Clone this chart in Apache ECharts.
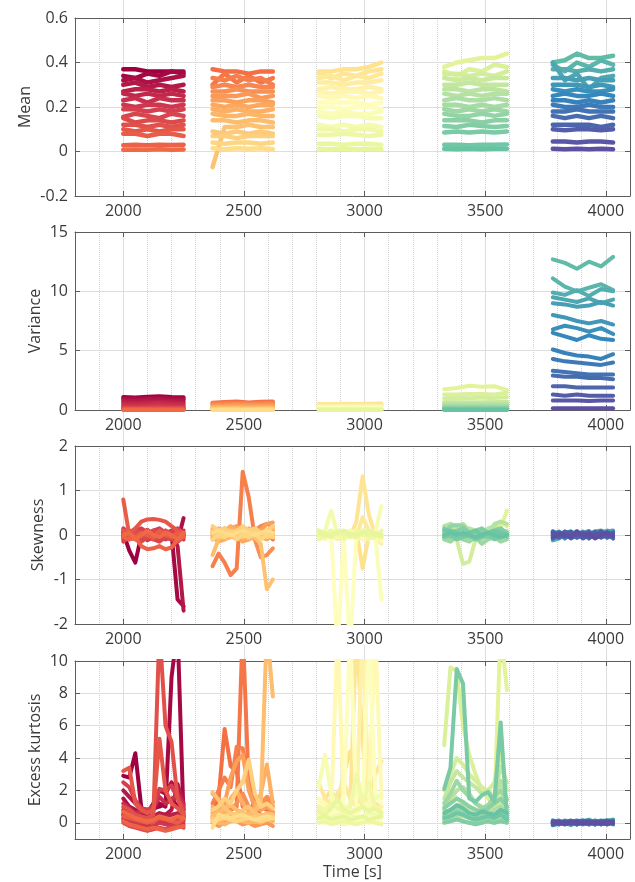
<!DOCTYPE html>
<html>
<head>
<meta charset="utf-8">
<script src="https://cdn.jsdelivr.net/npm/echarts@6/dist/echarts.min.js"></script>
<style>
  html, body { margin: 0; padding: 0; background: #ffffff; }
  #chart { width: 635px; height: 882px; }
</style>
</head>
<body>
<div id="chart"></div>
<script>
// ---- sample times of the five measurement windows ----
const coarseTimes = [
  [2000, 2050, 2100, 2150, 2200, 2250],
  [2370, 2420, 2470, 2520, 2570, 2620],
  [2810, 2862, 2914, 2966, 3018, 3070],
  [3330, 3382, 3434, 3486, 3538, 3590],
  [3780, 3830, 3880, 3930, 3980, 4030]
];
const fineTimes = [
  [2000, 2025, 2050, 2075, 2100, 2125, 2150, 2175, 2200, 2225, 2250],
  [2370, 2395, 2420, 2445, 2470, 2495, 2520, 2545, 2570, 2595, 2620],
  [2810, 2836, 2862, 2888, 2914, 2940, 2966, 2992, 3018, 3044, 3070],
  [3330, 3356, 3382, 3408, 3434, 3460, 3486, 3512, 3538, 3564, 3590],
  [3780, 3805, 3830, 3855, 3880, 3905, 3930, 3955, 3980, 4005, 4030]
];

// ---- tick labels ----
const timeTicks = [2000, 2500, 3000, 3500, 4000];
const kurtTicks = [0, 2, 4, 6, 8, 10];
const panelNames = ['Mean', 'Variance', 'Skewness', 'Excess kurtosis'];

// ---- mean (one row per channel, 16 channels per window) ----
const meanC1 = [
  [0.37,0.37,0.36,0.36,0.36,0.35],[0.34,0.33,0.35,0.34,0.36,0.36],[0.32,0.33,0.31,0.32,0.33,0.34],
  [0.30,0.31,0.29,0.30,0.29,0.30],[0.27,0.28,0.28,0.27,0.28,0.27],[0.26,0.25,0.26,0.25,0.26,0.25],
  [0.23,0.24,0.22,0.24,0.23,0.23],[0.21,0.20,0.21,0.21,0.20,0.21],[0.19,0.19,0.18,0.19,0.18,0.19],
  [0.155,0.17,0.16,0.15,0.17,0.16],[0.15,0.13,0.14,0.14,0.13,0.14],[0.12,0.12,0.11,0.12,0.11,0.12],
  [0.10,0.09,0.10,0.09,0.10,0.10],[0.08,0.08,0.07,0.08,0.08,0.07],[0.028,0.030,0.028,0.030,0.029,0.030],
  [0.008,0.009,0.008,0.010,0.008,0.009]
];
const meanC2 = [
  [0.37,0.36,0.36,0.35,0.36,0.36],[0.30,0.35,0.31,0.34,0.31,0.33],[0.33,0.32,0.34,0.32,0.33,0.30],
  [0.29,0.30,0.29,0.30,0.29,0.29],[0.27,0.27,0.28,0.27,0.27,0.27],[0.25,0.25,0.25,0.26,0.24,0.25],
  [0.23,0.23,0.22,0.23,0.23,0.22],[0.21,0.20,0.21,0.20,0.21,0.21],[0.19,0.18,0.19,0.18,0.18,0.19],
  [0.17,0.16,0.16,0.17,0.16,0.16],[0.14,0.14,0.13,0.14,0.14,0.13],[-0.07,0.11,0.11,0.12,0.11,0.11],
  [0.09,0.08,0.09,0.08,0.09,0.08],[0.07,0.07,0.06,0.07,0.07,0.07],[0.04,0.035,0.04,0.04,0.035,0.04],
  [0.015,0.01,0.015,0.012,0.015,0.01]
];
const meanC3 = [
  [0.36,0.36,0.37,0.37,0.38,0.40],[0.35,0.33,0.35,0.34,0.36,0.37],[0.33,0.34,0.32,0.34,0.33,0.35],
  [0.31,0.31,0.30,0.31,0.31,0.32],[0.28,0.29,0.28,0.28,0.29,0.28],[0.27,0.26,0.27,0.27,0.26,0.27],
  [0.25,0.24,0.25,0.24,0.25,0.24],[0.22,0.22,0.22,0.22,0.21,0.22],[0.20,0.20,0.19,0.20,0.20,0.19],
  [0.18,0.17,0.18,0.17,0.17,0.18],[0.16,0.15,0.16,0.16,0.15,0.15],[0.12,0.11,0.12,0.11,0.12,0.11],
  [0.10,0.10,0.09,0.10,0.10,0.09],[0.075,0.075,0.08,0.075,0.07,0.075],[0.035,0.035,0.03,0.035,0.035,0.03],
  [0.012,0.01,0.012,0.01,0.012,0.01]
];
const meanC4 = [
  [0.38,0.40,0.41,0.42,0.42,0.44],[0.36,0.34,0.37,0.36,0.39,0.38],[0.35,0.35,0.34,0.35,0.34,0.36],
  [0.33,0.32,0.33,0.32,0.33,0.33],[0.30,0.30,0.31,0.30,0.30,0.30],[0.28,0.28,0.27,0.28,0.28,0.27],
  [0.26,0.25,0.26,0.25,0.26,0.26],[0.23,0.24,0.23,0.23,0.24,0.23],[0.21,0.21,0.20,0.21,0.20,0.21],
  [0.19,0.18,0.19,0.18,0.19,0.18],[0.17,0.16,0.16,0.17,0.16,0.17],[0.14,0.14,0.14,0.13,0.14,0.14],
  [0.115,0.11,0.12,0.115,0.11,0.115],[0.085,0.09,0.085,0.09,0.085,0.09],[0.03,0.03,0.028,0.03,0.03,0.032],
  [0.012,0.01,0.012,0.01,0.012,0.012]
];
const meanC5 = [
  [0.40,0.41,0.44,0.42,0.42,0.43],[0.39,0.36,0.40,0.38,0.41,0.39],[0.37,0.37,0.36,0.37,0.36,0.37],
  [0.40,0.32,0.35,0.28,0.33,0.34],[0.33,0.33,0.32,0.33,0.32,0.32],[0.30,0.30,0.30,0.29,0.30,0.29],
  [0.28,0.27,0.28,0.27,0.27,0.28],[0.25,0.26,0.25,0.25,0.26,0.25],[0.23,0.23,0.22,0.23,0.22,0.23],
  [0.21,0.20,0.20,0.21,0.20,0.20],[0.18,0.18,0.19,0.18,0.18,0.18],[0.16,0.15,0.16,0.15,0.16,0.15],
  [0.12,0.12,0.12,0.12,0.11,0.12],[0.10,0.095,0.10,0.10,0.095,0.10],[0.045,0.045,0.04,0.045,0.045,0.04],
  [0.012,0.01,0.012,0.01,0.012,0.01]
];

// ---- variance ----
const varC1 = [
  [1.10,1.05,1.12,1.15,1.10,1.08],[1.00,0.98,1.02,1.05,1.00,0.98],[0.90,0.88,0.92,0.95,0.90,0.88],
  [0.78,0.76,0.80,0.82,0.78,0.76],[0.65,0.62,0.66,0.70,0.66,0.62],[0.52,0.50,0.54,0.62,0.52,0.50],
  [0.40,0.38,0.42,0.50,0.42,0.38],[0.30,0.28,0.32,0.36,0.30,0.28],[0.22,0.20,0.22,0.24,0.22,0.20],
  [0.17,0.16,0.18,0.18,0.17,0.16],[0.13,0.12,0.13,0.14,0.13,0.12],[0.10,0.09,0.10,0.10,0.10,0.09],
  [0.07,0.07,0.07,0.08,0.07,0.07],[0.05,0.05,0.05,0.05,0.05,0.05],[0.03,0.03,0.03,0.03,0.03,0.03],
  [0.01,0.01,0.01,0.01,0.01,0.01]
];
const varC2 = [
  [0.62,0.68,0.72,0.64,0.70,0.72],[0.58,0.60,0.62,0.60,0.62,0.64],[0.52,0.55,0.56,0.54,0.56,0.58],
  [0.46,0.48,0.50,0.48,0.50,0.50],[0.40,0.42,0.44,0.42,0.43,0.44],[0.34,0.36,0.37,0.35,0.36,0.37],
  [0.28,0.30,0.30,0.29,0.30,0.30],[0.23,0.24,0.25,0.24,0.24,0.25],[0.19,0.20,0.20,0.19,0.20,0.20],
  [0.15,0.16,0.16,0.15,0.16,0.16],[0.12,0.12,0.13,0.12,0.12,0.13],[0.09,0.09,0.10,0.09,0.09,0.10],
  [0.07,0.07,0.07,0.07,0.07,0.07],[0.05,0.05,0.05,0.05,0.05,0.05],[0.03,0.03,0.03,0.03,0.03,0.03],
  [0.01,0.01,0.01,0.01,0.01,0.01]
];
const varC3 = [
  [0.50,0.48,0.52,0.50,0.52,0.54],[0.45,0.44,0.46,0.45,0.46,0.48],[0.40,0.39,0.41,0.40,0.41,0.42],
  [0.35,0.34,0.36,0.35,0.36,0.36],[0.30,0.30,0.31,0.30,0.31,0.31],[0.26,0.26,0.27,0.26,0.26,0.27],
  [0.22,0.22,0.23,0.22,0.22,0.23],[0.19,0.19,0.19,0.19,0.19,0.19],[0.16,0.16,0.16,0.16,0.16,0.16],
  [0.13,0.13,0.13,0.13,0.13,0.13],[0.11,0.11,0.11,0.11,0.11,0.11],[0.09,0.09,0.09,0.09,0.09,0.09],
  [0.07,0.07,0.07,0.07,0.07,0.07],[0.05,0.05,0.05,0.05,0.05,0.05],[0.03,0.03,0.03,0.03,0.03,0.03],
  [0.01,0.01,0.01,0.01,0.01,0.01]
];
const varC4 = [
  [1.75,1.85,2.05,1.95,2.00,1.70],[1.30,1.30,1.35,1.35,1.30,1.45],[1.00,1.02,1.00,1.05,1.00,1.10],
  [0.68,0.65,0.66,0.66,0.68,0.72],[0.58,0.58,0.58,0.60,0.60,0.62],[0.50,0.50,0.50,0.52,0.50,0.52],
  [0.42,0.42,0.42,0.43,0.42,0.44],[0.35,0.35,0.35,0.36,0.35,0.36],[0.29,0.29,0.29,0.29,0.29,0.30],
  [0.24,0.24,0.24,0.24,0.24,0.24],[0.19,0.19,0.19,0.19,0.19,0.19],[0.15,0.15,0.15,0.15,0.15,0.15],
  [0.11,0.11,0.11,0.11,0.11,0.11],[0.07,0.07,0.07,0.07,0.07,0.07],[0.04,0.04,0.04,0.04,0.04,0.04],
  [0.01,0.01,0.01,0.01,0.01,0.01]
];
const varC5 = [
  [12.7,12.4,11.9,12.5,12.1,12.9],[11.1,10.4,10.0,10.3,10.6,10.1],[9.9,9.7,10.1,9.6,10.2,10.0],
  [9.5,9.3,9.1,9.4,9.0,9.3],[9.0,8.9,8.7,8.8,9.1,8.8],[8.0,7.8,7.5,7.3,7.5,7.2],
  [6.8,7.1,6.9,6.6,6.9,6.4],[6.5,6.2,5.9,6.3,6.0,5.9],[5.1,4.8,4.6,4.5,4.3,4.7],
  [4.3,4.1,4.0,3.9,3.8,4.0],[3.3,3.2,3.1,3.0,3.0,3.0],[2.9,2.8,2.8,2.7,2.7,2.6],
  [2.0,2.0,1.9,1.9,1.9,1.9],[1.3,1.2,1.3,1.2,1.2,1.2],[0.8,0.8,0.8,0.75,0.8,0.8],
  [0.15,0.15,0.15,0.15,0.15,0.15]
];

// ---- skewness ----
const skewC1 = [
  [0.05,-0.35,-0.62,0.0,0.05,-0.05,0.0,0.08,0.0,-0.05,0.0],
  [0.0,0.05,-0.05,0.0,0.05,0.0,-0.05,0.0,0.05,-1.45,-1.6],
  [0.0,0.0,0.05,-0.05,0.0,0.05,0.0,-0.05,-0.1,-0.15,0.38],
  [-0.05,0.0,-0.05,0.05,0.0,-0.05,0.05,0.0,0.0,-0.25,-1.7],
  [0.1,0.05,0.1,0.05,0.0,0.1,0.05,0.0,0.1,0.05,0.0],
  [-0.1,-0.05,0.0,-0.1,-0.05,0.0,-0.1,-0.05,0.0,-0.1,-0.05],
  [0.05,0.1,0.0,0.05,0.12,0.0,0.05,0.1,0.0,0.05,0.1],
  [0.0,-0.1,-0.05,0.0,-0.12,-0.05,0.05,-0.1,-0.05,0.0,-0.1],
  [0.15,0.05,0.1,0.15,0.05,0.1,0.15,0.05,0.1,0.15,0.05],
  [-0.15,-0.05,-0.1,-0.15,-0.05,-0.1,-0.15,-0.05,-0.1,-0.15,-0.05],
  [0.05,0.0,0.1,0.05,-0.05,0.1,0.0,0.05,-0.05,0.1,0.0],
  [-0.05,0.1,0.0,-0.05,0.1,-0.1,0.05,0.1,0.0,-0.05,0.05],
  [0.1,0.05,0.15,0.3,0.35,0.36,0.34,0.3,0.2,0.1,0.05],
  [0.8,0.0,-0.05,0.05,0.0,-0.05,0.1,0.0,-0.05,0.05,0.0],
  [-0.05,-0.1,-0.05,-0.25,-0.32,-0.3,-0.25,-0.32,-0.28,-0.1,-0.05],
  [0.0,0.05,-0.1,0.0,0.1,0.0,-0.05,0.05,0.0,-0.1,0.05]
];
const skewC2 = [
  [0.05,0.0,-0.05,0.1,0.0,0.05,-0.05,0.0,0.1,0.05,0.0],
  [-0.05,0.1,0.0,-0.05,0.05,0.0,0.1,-0.05,0.0,0.05,-0.1],
  [-0.7,-0.42,-0.62,-0.9,-0.75,1.42,0.85,-0.05,0.0,0.05,0.0],
  [0.1,0.05,0.15,0.05,0.1,0.15,0.05,0.1,0.2,0.25,0.2],
  [0.0,-0.1,-0.05,0.0,-0.1,-0.05,0.0,-0.1,-0.5,-0.45,-0.3],
  [-0.1,0.0,0.05,-0.05,0.1,0.0,-0.1,0.05,0.0,-0.05,0.1],
  [0.15,0.1,0.05,0.15,0.2,0.1,0.05,0.15,0.1,0.25,0.28],
  [-0.05,-0.15,-0.1,0.0,-0.05,-0.15,-0.1,0.0,-0.05,-0.1,0.0],
  [0.05,0.15,0.1,0.2,0.1,0.05,0.15,0.1,0.05,0.1,0.15],
  [0.0,0.05,-0.1,-0.05,0.0,0.05,-0.1,-0.05,0.0,0.05,-0.05],
  [-0.45,-0.1,0.0,0.05,-0.05,0.0,0.1,0.05,-0.05,0.0,0.05],
  [0.1,0.0,0.05,-0.05,0.1,0.0,0.05,-0.05,-0.2,-1.22,-1.0],
  [0.05,-0.05,0.0,0.1,0.05,-0.05,0.0,0.1,0.05,-0.05,0.0],
  [0.2,0.1,0.15,0.05,0.1,0.2,0.1,0.15,0.05,0.1,0.2],
  [-0.1,0.0,-0.05,0.05,-0.1,0.0,-0.05,0.05,-0.1,0.0,-0.05],
  [0.05,0.1,0.05,0.0,0.05,0.1,0.05,0.0,0.05,0.1,0.05]
];
const skewC3 = [
  [0.0,-0.05,0.05,0.0,-0.05,0.05,0.1,-0.75,0.0,-0.1,0.05],
  [0.05,0.0,-0.05,0.1,0.0,-0.05,0.3,1.32,0.45,0.0,-0.05],
  [-0.05,0.1,0.0,-0.05,0.05,0.0,-0.05,0.4,0.1,0.05,0.0],
  [0.1,0.05,0.1,0.0,0.05,0.1,0.0,0.05,0.1,0.05,0.0],
  [-0.1,-0.05,0.0,-0.1,-0.05,0.0,-0.1,-0.05,0.0,-0.1,-0.2],
  [0.0,0.1,0.05,-0.05,0.1,0.05,0.0,0.1,0.05,-0.05,0.1],
  [0.05,-0.1,0.0,0.05,-0.1,0.0,0.05,-0.1,0.0,0.05,-0.1],
  [0.0,0.05,0.0,-2.6,0.0,-0.05,0.0,0.05,0.0,-0.05,0.0],
  [-0.05,0.0,0.05,0.0,-0.05,-2.6,0.05,0.0,-0.05,0.0,0.05],
  [0.1,0.0,0.05,0.1,0.0,0.05,0.1,0.0,0.05,0.0,-1.45],
  [0.0,0.05,0.1,0.0,0.05,0.1,0.0,0.05,0.0,0.05,0.65],
  [0.0,0.1,0.55,0.0,0.05,-0.05,0.0,0.1,0.0,0.05,-0.05],
  [-0.1,0.0,-0.05,0.05,-0.1,0.0,-0.05,0.05,-0.1,0.0,-0.05],
  [0.05,-0.05,0.1,0.0,0.05,-0.05,0.1,0.0,0.05,-0.05,0.1],
  [0.0,0.05,-0.05,0.1,0.0,0.05,-0.05,0.1,0.0,0.05,-0.05],
  [0.1,0.0,0.0,0.05,0.1,0.0,0.0,0.05,0.1,0.0,0.0]
];
const skewC4 = [
  [0.05,0.0,-0.05,0.1,0.0,-0.05,0.05,0.0,0.1,0.15,0.55],
  [0.0,0.05,0.1,0.0,-0.05,0.05,0.1,0.0,0.05,0.3,0.2],
  [-0.05,0.0,-0.1,-0.65,-0.6,-0.1,0.0,0.05,0.0,-0.05,0.0],
  [0.05,0.1,0.0,0.05,0.1,0.0,0.05,0.1,0.0,0.05,0.1],
  [-0.1,-0.05,0.0,-0.1,-0.05,0.0,-0.1,-0.05,0.0,-0.1,-0.05],
  [0.0,0.15,0.1,0.05,0.15,0.1,0.05,0.15,0.2,0.1,0.05],
  [0.2,0.25,0.2,0.25,0.1,0.05,-0.1,0.0,0.25,0.3,0.25],
  [-0.05,0.05,0.0,-0.05,0.05,0.0,-0.05,0.05,0.0,-0.05,0.05],
  [0.1,0.0,0.05,0.1,0.0,0.05,0.1,0.0,0.05,0.1,0.0],
  [-0.1,-0.15,-0.05,-0.1,-0.15,-0.05,-0.2,-0.1,-0.05,-0.15,-0.1],
  [0.05,0.2,0.22,0.2,0.05,0.0,0.05,0.0,0.05,0.0,0.05],
  [0.0,-0.05,0.05,0.0,-0.05,0.05,0.0,-0.05,0.05,0.0,-0.05],
  [0.15,0.05,0.1,0.15,0.05,0.1,0.15,0.05,0.1,0.15,0.05],
  [-0.05,0.0,-0.1,-0.05,0.0,-0.1,-0.05,0.0,-0.1,-0.05,0.0],
  [0.1,0.1,0.05,0.0,0.05,0.1,0.0,0.05,0.1,0.05,0.0],
  [0.0,0.05,0.0,0.05,0.0,-0.05,0.0,0.05,0.0,-0.05,0.0]
];
const skewC5 = [
  [0.04,-0.05,0.08,0.0,-0.06,0.05,0.09,-0.03,0.06,0.1,0.07],
  [-0.08,0.0,0.05,-0.04,0.07,0.0,-0.05,0.08,0.03,-0.06,0.05],
  [-0.12,-0.08,0.0,0.06,-0.03,0.05,0.0,0.08,0.1,0.03,0.0],
  [0.08,0.03,-0.05,0.0,0.09,-0.03,0.05,0.0,-0.05,0.08,0.1],
  [0.0,0.06,-0.08,0.03,0.0,0.08,-0.03,0.05,0.09,0.0,-0.06],
  [-0.05,0.08,0.0,-0.06,0.05,0.0,0.06,-0.05,0.0,0.05,0.03],
  [0.06,-0.03,0.05,0.08,-0.05,0.03,0.0,0.06,-0.03,0.08,0.0],
  [0.0,0.05,-0.03,0.0,0.06,-0.06,0.03,0.0,0.05,-0.03,0.06],
  [-0.09,0.0,0.06,-0.05,0.0,0.05,-0.08,0.03,0.0,0.06,-0.05],
  [0.05,-0.06,0.0,0.08,-0.03,0.0,0.06,-0.05,0.08,0.0,0.03],
  [0.0,0.03,-0.06,0.0,0.05,-0.05,0.0,0.08,-0.03,0.0,0.06],
  [0.08,0.0,0.03,-0.08,0.0,0.06,-0.03,0.0,0.05,-0.06,0.0],
  [-0.03,0.06,0.0,0.05,-0.06,0.0,0.08,-0.05,0.0,0.03,-0.08],
  [0.0,-0.05,0.08,0.0,0.03,-0.08,0.0,0.05,-0.06,0.0,0.05],
  [0.05,0.0,-0.03,0.06,0.0,0.03,-0.06,0.0,0.08,-0.03,0.0],
  [-0.06,0.03,0.0,-0.05,0.08,0.0,0.03,-0.08,0.0,0.06,-0.03]
];

// ---- excess kurtosis ----
const kurtC1 = [
  [2.9,2.8,4.3,0.9,0.8,0.9,1.0,1.2,1.5,1.0,0.8],
  [0.5,0.4,0.3,0.5,0.6,0.8,1.2,1.0,9.0,12,0.3],
  [1.5,1.0,0.8,0.5,0.6,1.2,2.0,1.8,2.5,2.0,1.0],
  [2.0,1.6,1.2,0.8,0.5,0.4,0.6,0.5,0.8,2.4,1.2],
  [0.8,0.6,0.5,0.3,0.2,0.3,0.5,0.4,0.5,0.6,0.4],
  [0.3,0.2,0.1,0.0,-0.1,0.1,0.2,0.1,0.0,0.2,0.1],
  [1.2,0.9,0.6,0.7,0.6,0.9,1.6,1.2,1.4,1.8,1.1],
  [0.2,0.1,0.0,-0.2,-0.3,-0.2,0.0,-0.1,-0.2,0.0,-0.1],
  [2.5,2.2,1.4,0.9,0.8,1.0,2.1,2.0,2.3,1.5,0.9],
  [0.6,0.4,0.2,0.1,0.0,0.2,0.3,0.2,0.1,0.3,0.2],
  [0.0,-0.2,-0.3,-0.4,-0.5,-0.4,-0.3,-0.4,-0.3,-0.2,-0.3],
  [1.0,0.8,0.5,0.4,0.3,0.5,12,6.0,5.0,1.5,0.6],
  [3.2,3.4,1.2,0.8,0.6,0.8,5.2,2.0,1.2,0.9,0.5],
  [0.4,0.3,0.2,0.1,0.0,0.1,0.3,0.2,0.1,0.0,0.2],
  [0.1,-0.1,-0.2,-0.3,-0.4,-0.3,-0.4,-0.5,-0.4,-0.3,-0.2],
  [0.7,0.5,0.3,0.2,0.1,0.2,0.4,0.3,0.2,0.4,0.3]
];
const kurtC2 = [
  [0.8,1.5,5.8,3.5,3.2,1.0,0.8,1.2,1.0,0.8,0.6],
  [0.4,0.3,0.6,0.8,1.0,12,2.3,0.8,0.5,0.4,0.4],
  [1.2,2.0,2.8,2.2,4.7,4.6,2.5,1.5,1.2,1.5,1.0],
  [0.2,0.1,0.3,0.5,0.4,0.3,0.2,0.5,0.3,0.2,0.3],
  [1.8,1.5,1.0,0.8,1.2,1.8,1.0,0.6,1.2,1.6,1.3],
  [0.0,-0.2,0.0,0.2,0.1,-0.1,0.0,-0.2,-0.1,0.0,-0.2],
  [0.6,0.8,1.2,2.8,3.8,4.2,2.0,1.0,0.8,1.0,0.7],
  [0.3,0.5,0.4,0.2,0.3,0.5,0.4,0.3,0.5,0.4,0.3],
  [1.0,0.7,0.5,1.5,2.0,1.2,0.7,0.9,1.8,3.6,1.2],
  [0.1,0.0,-0.1,0.1,0.2,0.1,0.0,0.1,0.0,0.2,0.1],
  [0.5,0.6,0.9,1.1,0.8,0.6,0.5,0.7,1.2,12,7.8],
  [1.9,1.4,0.9,0.6,0.5,0.8,1.0,0.6,0.4,0.6,0.5],
  [0.3,0.2,0.4,0.6,0.5,0.4,0.3,0.4,0.2,0.3,0.4],
  [0.8,1.0,1.5,1.2,2.0,2.5,3.9,1.8,1.0,1.2,0.9],
  [0.1,0.2,0.3,0.2,0.1,0.2,0.3,0.2,0.1,0.2,0.3],
  [-0.3,0.5,0.4,0.3,0.4,0.5,0.3,0.2,0.3,0.4,0.3]
];
const kurtC3 = [
  [1.0,1.5,2.0,1.2,3.0,4.4,3.2,1.0,1.5,3.0,3.8],
  [0.5,0.8,1.5,1.0,0.6,0.8,12,5.0,1.0,0.8,0.6],
  [2.5,1.5,1.0,1.8,2.5,1.5,1.0,2.0,1.5,1.2,1.0],
  [0.3,0.2,0.4,0.5,0.3,0.6,0.4,0.3,0.5,0.4,0.3],
  [0.8,0.6,1.0,1.2,0.8,0.6,0.9,12,1.5,0.8,1.0],
  [0.1,0.0,0.2,0.1,-0.1,0.0,0.1,0.2,0.0,0.1,0.0],
  [1.5,1.2,0.8,12,1.0,0.8,0.6,0.9,1.2,12,1.5],
  [0.4,0.6,0.5,0.3,0.4,0.6,0.5,0.3,0.4,0.6,0.5],
  [1.2,0.9,0.7,0.8,1.2,12,1.0,0.8,12,1.8,1.2],
  [0.2,0.3,0.1,0.2,0.3,0.1,0.2,0.3,0.1,0.2,0.3],
  [2.2,4.2,1.8,1.0,0.8,1.2,2.0,1.4,1.0,1.5,1.8],
  [0.6,0.4,0.3,0.5,0.7,0.5,0.3,0.4,0.6,0.5,0.4],
  [1.0,0.8,1.2,0.9,0.7,1.0,3.0,1.2,2.5,0.9,0.7],
  [0.0,0.1,-0.1,0.0,0.1,0.0,-0.1,0.0,0.1,0.0,-0.1],
  [0.7,0.5,0.9,1.5,0.8,0.6,0.8,1.0,0.7,0.9,0.6],
  [0.3,0.4,0.2,0.3,0.4,0.2,0.3,0.4,0.2,0.3,0.4]
];
const kurtC4 = [
  [1.2,2.0,1.5,1.0,0.8,0.6,0.5,0.8,1.2,12,8.2],
  [4.8,9.6,9.4,6.0,4.2,3.0,2.0,1.5,1.2,1.8,1.0],
  [2.0,3.0,4.0,3.6,3.0,2.6,2.2,2.0,2.5,4.5,2.0],
  [0.5,0.8,1.0,0.9,0.7,0.5,0.6,0.8,1.0,1.2,0.9],
  [1.5,2.5,3.2,2.8,2.5,2.2,1.8,2.0,1.5,3.5,2.5],
  [0.2,0.3,0.5,0.4,0.3,0.2,0.4,0.3,0.2,0.5,0.3],
  [1.0,1.5,2.0,2.2,1.8,1.2,1.0,0.8,1.4,2.6,1.5],
  [0.8,0.6,0.9,1.2,1.0,0.8,0.6,0.5,0.8,1.0,0.7],
  [0.1,0.2,0.3,0.1,0.0,0.1,0.2,0.1,0.0,0.2,0.1],
  [1.2,1.8,2.6,2.0,1.6,1.2,0.9,1.1,1.6,2.0,1.4],
  [0.4,0.5,0.8,0.6,0.4,0.3,0.5,0.4,0.3,0.6,0.4],
  [0.9,1.2,1.5,1.3,1.0,0.8,0.7,0.9,1.2,1.5,1.0],
  [0.0,0.1,0.2,0.1,0.0,-0.1,0.0,0.1,0.0,0.1,0.0],
  [2.1,3.4,9.5,8.6,1.5,1.3,1.7,1.9,1.3,6.2,0.3],
  [0.3,0.4,0.6,0.5,0.3,0.2,0.3,0.4,0.3,0.5,0.2],
  [0.6,0.8,1.1,0.9,0.6,0.5,0.7,0.6,0.5,0.8,0.6]
];
const kurtC5 = [
  [0.1,0.0,0.15,0.05,-0.05,0.1,0.2,0.05,0.1,0.15,0.2],
  [-0.1,0.05,0.0,-0.15,0.1,0.0,-0.05,0.1,-0.1,0.05,0.0],
  [0.05,-0.1,0.1,0.0,-0.1,0.15,0.0,-0.05,0.1,0.0,-0.1],
  [0.0,0.1,-0.05,0.1,0.05,-0.05,0.1,0.0,-0.05,0.1,0.05],
  [0.15,0.05,0.0,0.1,-0.1,0.05,0.0,0.15,0.05,-0.05,0.1],
  [-0.05,0.0,0.1,-0.1,0.0,0.1,-0.05,0.0,0.15,0.05,-0.05],
  [0.05,0.15,-0.05,0.0,0.1,-0.1,0.05,0.1,0.0,-0.1,0.05],
  [-0.15,-0.05,0.05,0.1,0.0,0.05,-0.1,0.05,-0.05,0.1,0.0],
  [0.1,0.0,-0.1,0.05,0.15,0.0,0.05,-0.1,0.1,0.0,0.15],
  [0.0,-0.1,0.05,-0.05,0.0,0.1,0.15,0.0,-0.1,0.05,-0.05],
  [-0.05,0.1,0.0,0.15,-0.05,0.0,-0.1,0.1,0.05,-0.05,0.1],
  [0.1,-0.05,0.1,0.0,0.05,-0.05,0.0,-0.05,0.1,0.15,0.0],
  [0.0,0.05,-0.1,0.05,0.1,0.15,-0.05,0.05,0.0,-0.1,0.05],
  [-0.1,0.0,0.05,-0.05,0.0,0.05,0.1,-0.1,0.05,0.0,-0.05],
  [0.05,-0.05,0.0,0.1,-0.1,0.0,0.05,0.0,-0.05,0.1,0.0],
  [0.0,0.05,-0.05,0.0,0.05,-0.05,0.0,0.05,0.0,-0.05,0.05]
];

const panels = [
  { clusters: [meanC1, meanC2, meanC3, meanC4, meanC5], times: coarseTimes, min: -0.2, max: 0.6, interval: 0.2 },
  { clusters: [varC1, varC2, varC3, varC4, varC5], times: coarseTimes, min: 0, max: 15, interval: 5 },
  { clusters: [skewC1, skewC2, skewC3, skewC4, skewC5], times: fineTimes, min: -2, max: 2, interval: 1 },
  { clusters: [kurtC1, kurtC2, kurtC3, kurtC4, kurtC5], times: fineTimes, min: -1, max: 10, interval: 1, ticks: kurtTicks }
];

// ---- layout / style ----
const PLOT_LEFT = 75, PLOT_W = 555, PLOT_H = 178;
const PLOT_TOPS = [18, 232, 446, 661];
const NAME_GAPS = [42, 32, 29, 32];
const LINE_WIDTHS = [4.5, 4, 4, 4];
const X_MIN = 1800, X_MAX = 4100;
const AXIS_COLOR = '#5c5c5c', TEXT_COLOR = '#3a3a3a', GRID_COLOR = '#dedede', MINOR_COLOR = '#d2d2d2';
const FONT = 'Open Sans';

// Spectral colour map
const SPECTRAL = ['#9e0142','#d53e4f','#f46d43','#fdae61','#fee08b','#ffffbf','#e6f598','#abdda4','#66c2a5','#3288bd','#5e4fa2'];
function hexToRgb(h) { return [1, 3, 5].map(p => parseInt(h.substr(p, 2), 16)); }
function spectral(t) {
  const n = SPECTRAL.length - 1;
  const p = Math.max(0, Math.min(1, t)) * n;
  const i = Math.min(Math.floor(p), n - 1);
  const f = p - i;
  const a = hexToRgb(SPECTRAL[i]), b = hexToRgb(SPECTRAL[i + 1]);
  const c = a.map((v, k) => Math.round(v + (b[k] - v) * f));
  return 'rgb(' + c.join(',') + ')';
}

const grids = [], xAxes = [], yAxes = [], series = [];
const labelStyle = { fontSize: 16, color: TEXT_COLOR, fontFamily: FONT };
const plain = v => String(v);

panels.forEach((panel, k) => {
  grids.push({ left: PLOT_LEFT, top: PLOT_TOPS[k], width: PLOT_W, height: PLOT_H, containLabel: false });

  // dotted minor grid every 100 s
  xAxes.push({
    gridIndex: k, type: 'value', min: X_MIN, max: X_MAX, interval: 100, position: 'bottom', z: 0,
    axisLine: { show: false }, axisTick: { show: false }, axisLabel: { show: false },
    splitLine: { show: true, lineStyle: { type: 'dotted', color: MINOR_COLOR, width: 1 } }
  });
  // major vertical grid lines at the labelled times
  xAxes.push({
    gridIndex: k, type: 'value', min: X_MIN, max: X_MAX, interval: 100, position: 'bottom', z: 1,
    axisLine: { show: false },
    axisTick: { show: true, inside: true, length: PLOT_H, customValues: timeTicks, lineStyle: { color: GRID_COLOR, width: 1 } },
    axisLabel: { show: false }, splitLine: { show: false }
  });
  // bottom time axis: labels and short ticks (data axis)
  const xData = xAxes.length;
  xAxes.push({
    gridIndex: k, type: 'value', min: X_MIN, max: X_MAX, interval: 100, position: 'bottom', z: 2,
    axisLine: { show: true, onZero: false, lineStyle: { color: AXIS_COLOR, width: 1 } },
    axisTick: { show: true, inside: true, length: 5, customValues: timeTicks, lineStyle: { color: AXIS_COLOR } },
    axisLabel: Object.assign({ show: true, customValues: timeTicks, margin: 7, formatter: plain }, labelStyle),
    splitLine: { show: false },
    name: k === 3 ? 'Time [s]' : '', nameLocation: 'middle', nameGap: 25, nameMoveOverlap: false,
    nameTextStyle: labelStyle
  });
  // top frame edge with short ticks
  xAxes.push({
    gridIndex: k, type: 'value', min: X_MIN, max: X_MAX, interval: 100, position: 'top', z: 2,
    axisLine: { show: true, onZero: false, lineStyle: { color: AXIS_COLOR, width: 1 } },
    axisTick: { show: true, inside: true, length: 5, customValues: timeTicks, lineStyle: { color: AXIS_COLOR } },
    axisLabel: { show: false }, splitLine: { show: false }
  });

  if (panel.ticks) {
    // horizontal grid lines at the labelled values only
    yAxes.push({
      gridIndex: k, type: 'value', min: panel.min, max: panel.max, interval: panel.interval, position: 'left', z: 1,
      axisLine: { show: false },
      axisTick: { show: true, inside: true, length: PLOT_W, customValues: panel.ticks, lineStyle: { color: GRID_COLOR, width: 1 } },
      axisLabel: { show: false }, splitLine: { show: false }
    });
  }
  const yData = yAxes.length;
  const leftY = {
    gridIndex: k, type: 'value', min: panel.min, max: panel.max, interval: panel.interval, position: 'left', z: 2,
    axisLine: { show: true, onZero: false, lineStyle: { color: AXIS_COLOR, width: 1 } },
    axisTick: { show: true, inside: true, length: 5, lineStyle: { color: AXIS_COLOR } },
    axisLabel: Object.assign({ show: true, margin: 7, formatter: plain }, labelStyle),
    splitLine: { show: !panel.ticks, lineStyle: { color: GRID_COLOR, width: 1 } },
    name: panelNames[k], nameLocation: 'middle', nameGap: NAME_GAPS[k], nameRotate: 90, nameMoveOverlap: false,
    nameTextStyle: labelStyle
  };
  if (panel.ticks) {
    leftY.axisTick.customValues = panel.ticks;
    leftY.axisLabel.customValues = panel.ticks;
  }
  yAxes.push(leftY);
  const rightY = {
    gridIndex: k, type: 'value', min: panel.min, max: panel.max, interval: panel.interval, position: 'right', z: 2,
    axisLine: { show: true, onZero: false, lineStyle: { color: AXIS_COLOR, width: 1 } },
    axisTick: { show: true, inside: true, length: 5, lineStyle: { color: AXIS_COLOR } },
    axisLabel: { show: false }, splitLine: { show: false }
  };
  if (panel.ticks) rightY.axisTick.customValues = panel.ticks;
  yAxes.push(rightY);

  const perCluster = panel.clusters[0].length;
  const total = panel.clusters.length * perCluster;
  panel.clusters.forEach((lines, c) => {
    lines.forEach((vals, i) => {
      const color = spectral((c * perCluster + i) / (total - 1));
      series.push({
        type: 'line', xAxisIndex: xData, yAxisIndex: yData,
        data: vals.map((v, j) => [panel.times[c][j], v]),
        symbol: 'none', showSymbol: false, clip: true, silent: true,
        lineStyle: { width: LINE_WIDTHS[k], color: color, cap: 'round', join: 'round' },
        itemStyle: { color: color },
        z: 3
      });
    });
  });
});

const chart = echarts.init(document.getElementById('chart'), null, { renderer: 'canvas' });
chart.setOption({
  animation: false,
  backgroundColor: '#ffffff',
  grid: grids,
  xAxis: xAxes,
  yAxis: yAxes,
  series: series
});
</script>
</body>
</html>
